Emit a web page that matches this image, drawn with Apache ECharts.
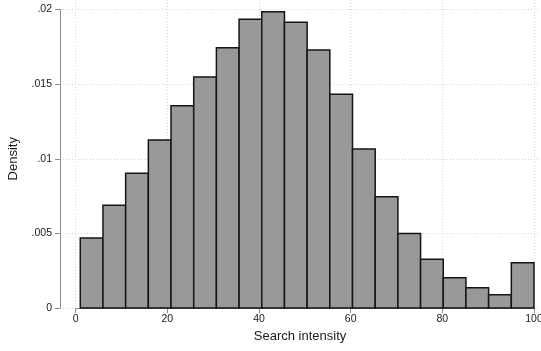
<!DOCTYPE html>
<html>
<head>
<meta charset="utf-8">
<script src="https://cdn.jsdelivr.net/npm/echarts@6/dist/echarts.min.js"></script>
<style>
  html, body { margin: 0; padding: 0; background: #fff; }
  #chart { width: 541px; height: 351px; }
</style>
</head>
<body>
<div id="chart"></div>
<script>
// Histogram bins: left edge, right edge and density of each bin
const binLeft  = [1, 5.95, 10.9, 15.85, 20.8, 25.75, 30.7, 35.65, 40.6, 45.55,
                  50.5, 55.45, 60.4, 65.35, 70.3, 75.25, 80.2, 85.15, 90.1, 95.05];
const binRight = [5.95, 10.9, 15.85, 20.8, 25.75, 30.7, 35.65, 40.6, 45.55, 50.5,
                  55.45, 60.4, 65.35, 70.3, 75.25, 80.2, 85.15, 90.1, 95.05, 100];
const density  = [0.00469, 0.00688, 0.00903, 0.01126, 0.01355, 0.01548, 0.01744, 0.01934, 0.01985, 0.01914,
                  0.01729, 0.01432, 0.01065, 0.00746, 0.00500, 0.00326, 0.00203, 0.00136, 0.00089, 0.00304];

const xTicks = [0, 20, 40, 60, 80, 100];
const yTicks = [0, 0.005, 0.01, 0.015, 0.02];

const FONT = '"Liberation Sans", Arial, Helvetica, sans-serif';
const gridLine = { show: true, lineStyle: { color: '#d4d4d4', width: 1, type: [1, 2] } };

const chart = echarts.init(document.getElementById('chart'), null, { renderer: 'canvas' });

const bars = binLeft.map((l, i) => [l, binRight[i], density[i]]);

chart.setOption({
  animation: false,
  backgroundColor: '#ffffff',
  grid: [
    // plot area for the bars and the x axis
    { left: 75.7, right: 7, top: 0, bottom: 43, containLabel: false, outerBoundsMode: 'none' },
    // y axis and titles, spanning the whole plot region
    { left: 60, right: 1, top: 9.5, bottom: 43, containLabel: false, outerBoundsMode: 'none' }
  ],
  xAxis: [
    {
      gridIndex: 0, type: 'value', min: xTicks[0], max: xTicks[xTicks.length - 1], interval: 20,
      axisLine: { show: true, lineStyle: { color: '#8c8c8c', width: 1 } },
      axisTick: { show: true, inside: false, length: 5, lineStyle: { color: '#8c8c8c' } },
      axisLabel: { fontFamily: FONT, fontSize: 10.5, color: '#1a1a1a', margin: 6, showMaxLabel: true, showMinLabel: true, hideOverlap: false },
      splitLine: gridLine
    },
    {
      gridIndex: 1, type: 'value', min: 0, max: 1,
      name: 'Search intensity', nameLocation: 'middle', nameGap: 22,
      nameTextStyle: { fontFamily: FONT, fontSize: 13, color: '#1a1a1a' },
      axisLine: { show: false }, axisTick: { show: false }, axisLabel: { show: false }, splitLine: { show: false }
    }
  ],
  yAxis: [
    { gridIndex: 0, type: 'value', min: 0, max: 0.02 * 308 / 298.5, show: false, splitLine: { show: false } },
    {
      gridIndex: 1, type: 'value', min: yTicks[0], max: yTicks[yTicks.length - 1], interval: 0.005,
      name: 'Density', nameLocation: 'middle', nameGap: 40,
      nameTextStyle: { fontFamily: FONT, fontSize: 13, color: '#1a1a1a' },
      axisLine: { show: true, lineStyle: { color: '#8c8c8c', width: 1 } },
      axisTick: { show: true, inside: false, length: 5, lineStyle: { color: '#8c8c8c' } },
      axisLabel: {
        fontFamily: FONT, fontSize: 10.5, color: '#1a1a1a', margin: 8, hideOverlap: false,
        formatter: v => v === 0 ? '0' : String(+v.toFixed(3)).replace(/^0\./, '.')
      },
      splitLine: gridLine
    }
  ],
  series: [{
    type: 'custom',
    xAxisIndex: 0, yAxisIndex: 0,
    data: bars,
    z: 5,
    renderItem: function (params, api) {
      const p0 = api.coord([api.value(0), api.value(2)]);
      const p1 = api.coord([api.value(1), 0]);
      return {
        type: 'rect',
        shape: { x: p0[0], y: p0[1], width: p1[0] - p0[0], height: p1[1] - p0[1] },
        style: { fill: '#999999', stroke: '#151515', lineWidth: 1.5 }
      };
    }
  }]
});
</script>
</body>
</html>
